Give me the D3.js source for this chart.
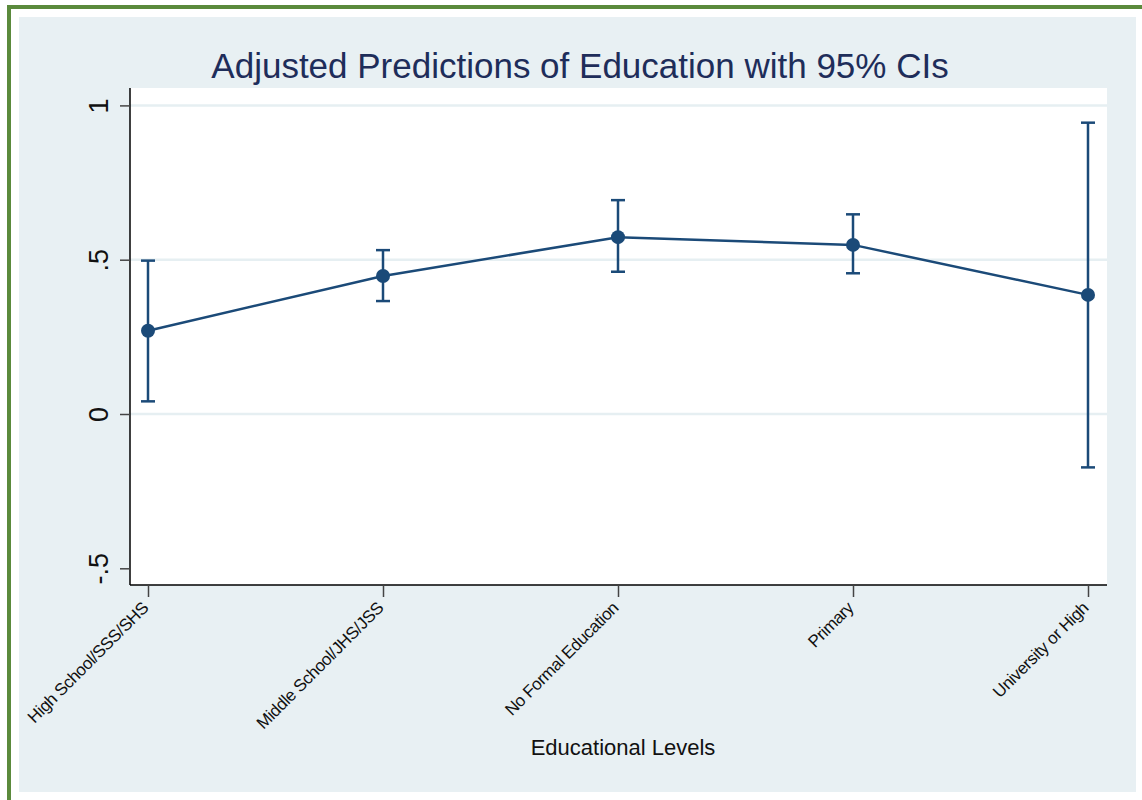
<!DOCTYPE html>
<html>
<head>
<meta charset="utf-8">
<script src="https://cdn.jsdelivr.net/npm/d3@7"></script>
<style>
  html, body { margin: 0; padding: 0; background: #ffffff; }
  svg { display: block; }
  text { font-family: "Liberation Sans", Arial, sans-serif; }
</style>
</head>
<body>
<svg id="chart" width="1142" height="800"></svg>
<script>
const categories = ["High School/SSS/SHS", "Middle School/JHS/JSS", "No Formal Education", "Primary", "University or High"];
const predicted = [0.270, 0.447, 0.573, 0.548, 0.386];
const lowerCI = [0.041, 0.366, 0.461, 0.456, -0.173];
const upperCI = [0.497, 0.531, 0.693, 0.647, 0.944];
const yTicks = [-0.5, 0, 0.5, 1];
const yTickLabels = ["-.5", "0", ".5", "1"];
const titleText = "Adjusted Predictions of Education with 95% CIs";
const xTitle = "Educational Levels";

const data = categories.map((c, i) => ({ c, v: predicted[i], lo: lowerCI[i], hi: upperCI[i] }));

const svg = d3.select("#chart");
const navy = "#1b4a78";

// outer frame
svg.append("rect").attr("x", 0).attr("y", 0).attr("width", 1142).attr("height", 800).attr("fill", "#ffffff");
svg.append("rect").attr("x", 9).attr("y", 7).attr("width", 1160).attr("height", 820)
  .attr("fill", "none").attr("stroke", "#5b8a3c").attr("stroke-width", 4);
svg.append("rect").attr("x", 19).attr("y", 17).attr("width", 1117).attr("height", 775).attr("fill", "#e8f0f3");

const plot = { left: 130, right: 1107, top: 88, bottom: 585 };
svg.append("rect").attr("x", plot.left).attr("y", plot.top)
  .attr("width", plot.right - plot.left).attr("height", plot.bottom - plot.top).attr("fill", "#ffffff");

const x = d3.scalePoint().domain(categories).range([148, 1088]);
const y = d3.scaleLinear().domain([-0.5, 1]).range([568.3, 105.4]);

// gridlines
svg.append("g").selectAll("line").data(yTicks.filter(t => t > -0.5)).join("line")
  .attr("x1", plot.left).attr("x2", plot.right)
  .attr("y1", d => y(d)).attr("y2", d => y(d))
  .attr("stroke", "#e6eff2").attr("stroke-width", 2.5);

// y axis
const yAxis = d3.axisLeft(y).tickValues(yTicks).tickFormat((d, i) => yTickLabels[i]).tickSize(10).tickPadding(10);
const gy = svg.append("g").attr("transform", `translate(${plot.left},0)`).call(yAxis);
gy.select(".domain").attr("d", `M0,${plot.top}V${plot.bottom}`).attr("stroke", "#000").attr("stroke-width", 1.5);
gy.selectAll(".tick line").attr("stroke", "#444").attr("stroke-width", 1.5);
gy.selectAll(".tick text")
  .attr("font-size", 27).attr("fill", "#111")
  .attr("text-anchor", "middle")
  .attr("x", null).attr("dy", null)
  .attr("transform", d => `translate(-32,0) rotate(-90) translate(0,10)`);

// x axis
const xAxis = d3.axisBottom(x).tickSize(12).tickPadding(6);
const gx = svg.append("g").attr("transform", `translate(0,${plot.bottom})`).call(xAxis);
gx.select(".domain").attr("d", `M${plot.left},0H${plot.right}`).attr("stroke", "#000").attr("stroke-width", 1.5);
gx.selectAll(".tick line").attr("stroke", "#444").attr("stroke-width", 1.5);
gx.selectAll(".tick text")
  .attr("font-size", 17).attr("fill", "#111")
  .attr("text-anchor", "end")
  .attr("y", null).attr("dy", null)
  .attr("letter-spacing", "-0.4")
  .attr("transform", "translate(1,24) rotate(-45)");

// error bars
const cap = 7;
const eb = svg.append("g").attr("stroke", navy).attr("stroke-width", 2.5);
eb.selectAll("line.v").data(data).join("line").attr("class", "v")
  .attr("x1", d => x(d.c)).attr("x2", d => x(d.c))
  .attr("y1", d => y(d.lo)).attr("y2", d => y(d.hi));
eb.selectAll("line.hi").data(data).join("line").attr("class", "hi")
  .attr("x1", d => x(d.c) - cap).attr("x2", d => x(d.c) + cap)
  .attr("y1", d => y(d.hi)).attr("y2", d => y(d.hi));
eb.selectAll("line.lo").data(data).join("line").attr("class", "lo")
  .attr("x1", d => x(d.c) - cap).attr("x2", d => x(d.c) + cap)
  .attr("y1", d => y(d.lo)).attr("y2", d => y(d.lo));

// line
svg.append("path").datum(data)
  .attr("fill", "none").attr("stroke", navy).attr("stroke-width", 2.5)
  .attr("d", d3.line().x(d => x(d.c)).y(d => y(d.v)));

// markers
svg.append("g").selectAll("circle").data(data).join("circle")
  .attr("cx", d => x(d.c)).attr("cy", d => y(d.v)).attr("r", 7)
  .attr("fill", navy);

// title
svg.append("text").attr("x", 580).attr("y", 78).attr("text-anchor", "middle")
  .attr("font-size", 35).attr("fill", "#1e2d5a").text(titleText);

// x axis title
svg.append("text").attr("x", 623).attr("y", 755).attr("text-anchor", "middle")
  .attr("font-size", 22).attr("fill", "#111").text(xTitle);
</script>
</body>
</html>
